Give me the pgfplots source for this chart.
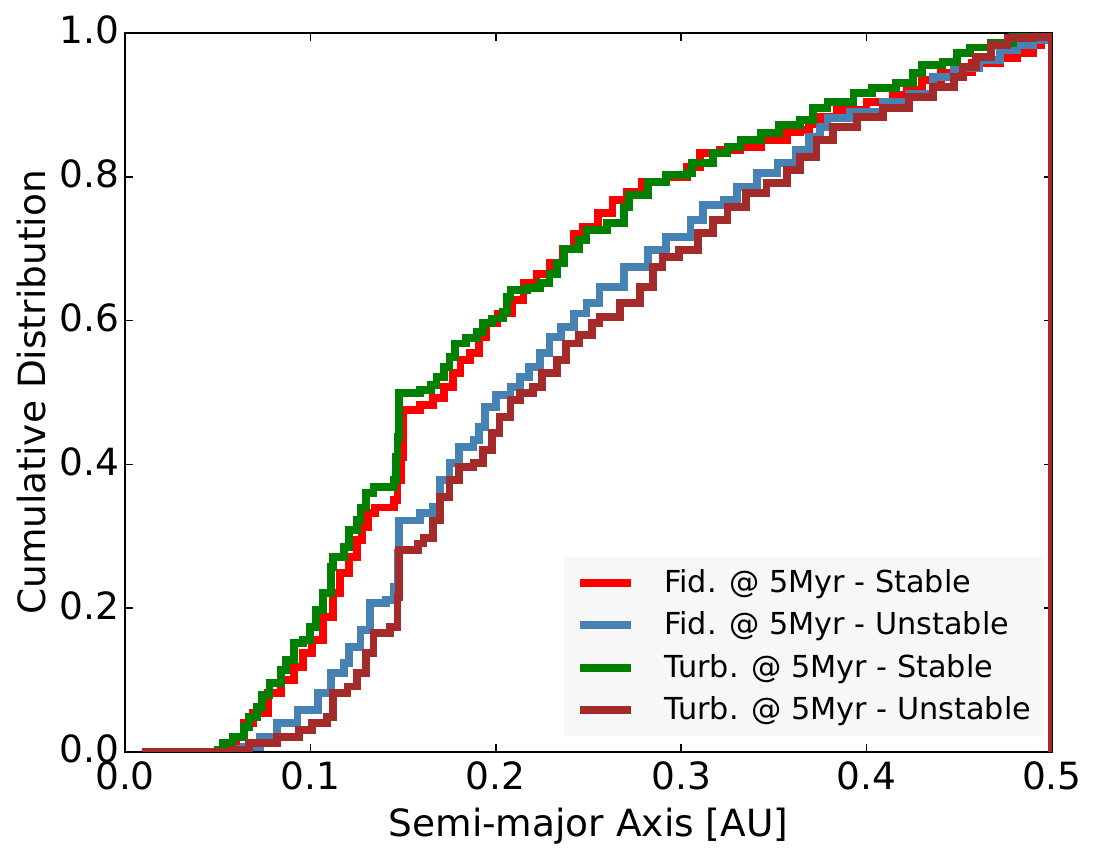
\documentclass[border=0pt]{standalone}
\usepackage{fontspec}
\setmainfont{DejaVu Sans}
\usepackage{pgfplots}
\pgfplotsset{compat=1.18}

\definecolor{cRed}{RGB}{255,0,0}
\definecolor{cSteel}{RGB}{70,130,180}
\definecolor{cGreen}{RGB}{0,128,0}
\definecolor{cBrown}{RGB}{165,42,42}
\definecolor{legfill}{RGB}{247,247,247}

\begin{document}
\begin{tikzpicture}
\useasboundingbox (-45pt,-38.9pt) rectangle (350.3pt,270.7pt);
\begin{axis}[
  scale only axis,
  width=333.7pt, height=258.8pt,
  xmin=0, xmax=0.5, ymin=0, ymax=1,
  xtick={0,0.1,0.2,0.3,0.4,0.5},
  ytick={0,0.2,0.4,0.6,0.8,1.0},
  /pgf/number format/assume math mode=true,
  /pgf/number format/.cd, fixed, fixed zerofill, precision=1,
  /pgfplots/.cd,
  tick label style={font=\fontsize{13.5}{16}\selectfont},
  xticklabel style={anchor=base, yshift=-13.7pt},
  yticklabel style={anchor=east, inner sep=0pt, xshift=-1.8pt, yshift=1pt},
  label style={font=\fontsize{13.5}{16}\selectfont},
  xlabel={Semi-major Axis [AU]},
  ylabel={Cumulative Distribution},
  xlabel style={at={(axis description cs:0.5,0)}, anchor=base, yshift=-30.6pt},
  ylabel style={at={(axis description cs:-0.1013,0.5)}, anchor=center},
  axis line style={line width=1pt},
  tick style={line width=0.6pt, black},
  major tick length=2.9pt,
  tick align=inside,
  legend style={
    at={(axis description cs:0.991,0.0209)}, anchor=south east,
    draw=none, fill=legfill,
    font=\fontsize{10.9}{13}\selectfont,
    inner xsep=4.3pt, inner ysep=4.5pt,
    row sep=5.5pt, column sep=10.4pt,
    nodes={inner sep=0pt}},
  legend cell align=left,
  legend image code/.code={\draw[#1,line width=2.8pt] (0pt,0pt) -- (18.4pt,0pt);},
  every axis plot/.append style={const plot, line width=2.8pt, line join=miter},
]
% Fiducial run, stable systems
\addplot[cRed] coordinates {
(0.009,0) (0.05,0) (0.055,0.008) (0.06,0.02) (0.064,0.04) (0.069,0.054)
(0.077,0.082) (0.084,0.1) (0.091,0.118) (0.096,0.138) (0.101,0.156)
(0.107,0.188) (0.112,0.221) (0.116,0.249) (0.121,0.271) (0.125,0.295)
(0.128,0.313) (0.131,0.332) (0.135,0.34) (0.145,0.35) (0.147,0.378)
(0.149,0.41) (0.150,0.476) (0.159,0.483) (0.166,0.492) (0.172,0.508)
(0.177,0.527) (0.181,0.545) (0.186,0.555) (0.191,0.577) (0.195,0.597)
(0.201,0.61) (0.209,0.629) (0.215,0.652) (0.222,0.665) (0.229,0.68)
(0.236,0.70) (0.242,0.72) (0.247,0.73) (0.255,0.75) (0.263,0.768)
(0.271,0.779) (0.279,0.793) (0.292,0.80) (0.303,0.814) (0.31,0.833)
(0.321,0.837) (0.332,0.842) (0.343,0.851) (0.357,0.862) (0.364,0.865)
(0.369,0.874) (0.375,0.883) (0.384,0.893) (0.4,0.904) (0.414,0.914)
(0.422,0.921) (0.43,0.935) (0.44,0.945) (0.457,0.958) (0.472,0.965)
(0.481,0.972) (0.49,0.983) (0.494,0.99) (0.498,1.0) (0.5,1.0) (0.5,0)};
\addlegendentry{Fid. @ 5Myr - Stable}
% Fiducial run, unstable systems
\addplot[cSteel] coordinates {
(0.009,0) (0.051,0) (0.058,0.004) (0.064,0.007) (0.073,0.021) (0.082,0.04)
(0.093,0.058) (0.104,0.082) (0.111,0.11) (0.118,0.124) (0.121,0.146)
(0.127,0.17) (0.132,0.207) (0.141,0.211) (0.145,0.23) (0.147,0.277)
(0.148,0.322) (0.159,0.332) (0.166,0.341) (0.17,0.378) (0.175,0.402)
(0.18,0.424) (0.188,0.434) (0.191,0.452) (0.194,0.48) (0.2,0.496)
(0.208,0.508) (0.213,0.522) (0.218,0.535) (0.224,0.555) (0.229,0.577)
(0.235,0.591) (0.242,0.61) (0.249,0.624) (0.256,0.647) (0.269,0.675)
(0.282,0.698) (0.292,0.716) (0.305,0.74) (0.312,0.761) (0.323,0.768)
(0.33,0.786) (0.341,0.805) (0.352,0.819) (0.362,0.837) (0.369,0.855)
(0.375,0.869) (0.379,0.882) (0.391,0.89) (0.409,0.904) (0.423,0.916)
(0.436,0.939) (0.447,0.951) (0.461,0.962) (0.472,0.976) (0.481,0.983)
(0.49,0.99) (0.496,1.0) (0.5,1.0) (0.5,0)};
\addlegendentry{Fid. @ 5Myr - Unstable}
% Turbulent run, stable systems
\addplot[cGreen] coordinates {
(0.009,0) (0.047,0) (0.05,0.003) (0.053,0.012) (0.058,0.021) (0.064,0.035)
(0.067,0.049) (0.071,0.063) (0.074,0.079) (0.078,0.096) (0.084,0.114)
(0.087,0.128) (0.091,0.152) (0.096,0.156) (0.1,0.174) (0.103,0.197)
(0.107,0.221) (0.111,0.257) (0.112,0.271) (0.118,0.285) (0.121,0.309)
(0.125,0.323) (0.127,0.34) (0.130,0.36) (0.134,0.369) (0.145,0.378)
(0.146,0.41) (0.147,0.438) (0.148,0.499) (0.159,0.503) (0.165,0.51)
(0.168,0.522) (0.172,0.535) (0.175,0.549) (0.178,0.568) (0.184,0.576)
(0.19,0.584) (0.193,0.597) (0.198,0.603) (0.204,0.612) (0.206,0.633)
(0.208,0.643) (0.217,0.645) (0.224,0.652) (0.229,0.665) (0.233,0.68)
(0.237,0.70) (0.245,0.712) (0.249,0.726) (0.26,0.736) (0.269,0.758)
(0.272,0.775) (0.282,0.793) (0.292,0.802) (0.303,0.805) (0.306,0.819)
(0.317,0.833) (0.325,0.842) (0.332,0.851) (0.343,0.861) (0.353,0.872)
(0.364,0.879) (0.371,0.896) (0.379,0.904) (0.393,0.917) (0.403,0.924)
(0.416,0.93) (0.425,0.944) (0.43,0.955) (0.441,0.96) (0.449,0.972)
(0.456,0.98) (0.467,0.986) (0.479,0.994) (0.49,1.0) (0.5,1.0) (0.5,0)};
\addlegendentry{Turb. @ 5Myr - Stable}
% Turbulent run, unstable systems
\addplot[cBrown] coordinates {
(0.009,0) (0.051,0) (0.058,0.003) (0.067,0.012) (0.082,0.021) (0.094,0.031)
(0.101,0.04) (0.109,0.049) (0.112,0.082) (0.12,0.091) (0.125,0.11)
(0.13,0.138) (0.134,0.165) (0.143,0.174) (0.147,0.216) (0.148,0.281)
(0.158,0.29) (0.161,0.298) (0.166,0.322) (0.17,0.355) (0.175,0.378)
(0.18,0.396) (0.188,0.402) (0.193,0.42) (0.198,0.444) (0.202,0.466)
(0.208,0.49) (0.213,0.499) (0.22,0.508) (0.225,0.527) (0.233,0.545)
(0.238,0.568) (0.245,0.58) (0.252,0.597) (0.256,0.605) (0.267,0.624)
(0.278,0.647) (0.285,0.675) (0.29,0.688) (0.299,0.698) (0.309,0.722)
(0.317,0.74) (0.325,0.758) (0.335,0.777) (0.346,0.791) (0.357,0.809)
(0.364,0.828) (0.373,0.851) (0.382,0.869) (0.395,0.883) (0.409,0.896)
(0.423,0.911) (0.436,0.925) (0.447,0.939) (0.452,0.953) (0.459,0.967)
(0.467,0.983) (0.476,0.993) (0.49,0.995) (0.497,1.0) (0.5,1.0) (0.5,0)};
\addlegendentry{Turb. @ 5Myr - Unstable}
\end{axis}
\end{tikzpicture}
\end{document}
